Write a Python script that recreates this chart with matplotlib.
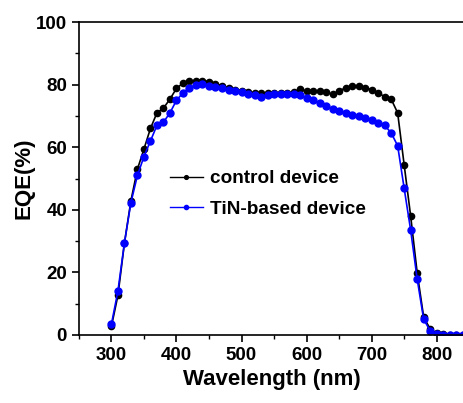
import numpy as np
import matplotlib.pyplot as plt
from matplotlib.ticker import MultipleLocator

plt.rcParams['font.family'] = ['Liberation Sans', 'DejaVu Sans']
plt.rcParams['font.weight'] = 'bold'

# wavelength (nm)
wl = np.arange(300, 850, 10)

# EQE (%) of control device
eqe_control = [2.7, 12.6, 29.3, 42.9, 53.0, 59.4, 66.0, 71.0, 72.5, 75.4,
               78.8, 80.5, 81.2, 81.3, 81.3, 81.0, 80.3, 79.7, 79.0, 78.4,
               78.0, 77.6, 77.4, 77.2, 77.2, 77.3, 77.4, 77.5, 77.6, 78.5,
               78.0, 78.0, 78.0, 77.6, 76.9, 78.0, 79.0, 79.6, 79.7, 79.1,
               78.4, 77.5, 76.1, 75.4, 71.0, 54.4, 38.0, 19.9, 5.7, 1.9,
               0.5, 0.2, 0.1, 0.1, 0.1]

# EQE (%) of TiN-based device
eqe_tin = [3.4, 14.0, 29.4, 42.3, 51.0, 57.0, 62.0, 67.0, 68.0, 71.0,
           75.0, 77.4, 79.0, 80.0, 80.3, 79.7, 79.3, 78.8, 78.3, 78.0,
           77.6, 77.0, 76.6, 76.1, 76.7, 76.9, 77.0, 77.0, 76.9, 76.8,
           75.6, 75.0, 74.0, 73.2, 72.1, 71.5, 70.9, 70.4, 69.9, 69.3,
           68.6, 67.8, 67.0, 64.6, 60.5, 46.9, 33.5, 17.9, 5.0, 1.3,
           0.3, 0.1, 0.1, 0.1, 0.1]

fig = plt.figure(figsize=(4.64, 4.03), dpi=100)
ax = fig.add_axes([0.170, 0.169, 0.83, 0.776])

ax.plot(wl, eqe_control, '-o', color='black', lw=1.2, ms=4.5, label='control device')
ax.plot(wl, eqe_tin, '-o', color='blue', lw=1.2, ms=5, label='TiN-based device')

ax.set_xlim(250, 842)
ax.set_ylim(0, 100)
ax.xaxis.set_major_locator(MultipleLocator(100))
ax.xaxis.set_minor_locator(MultipleLocator(50))
ax.yaxis.set_major_locator(MultipleLocator(20))
ax.yaxis.set_minor_locator(MultipleLocator(10))
ax.tick_params(which='major', direction='out', length=5, width=1.2, labelsize=13.5)
ax.tick_params(which='minor', direction='out', length=3, width=1.0)
for lbl in ax.get_xticklabels() + ax.get_yticklabels():
    lbl.set_fontweight('bold')
ax.spines['right'].set_visible(False)
for s in ['left', 'top', 'bottom']:
    ax.spines[s].set_linewidth(1.2)

ax.set_xlabel('Wavelength (nm)', fontsize=16, fontweight='bold')
ax.set_ylabel('EQE(%)', fontsize=16, fontweight='bold', labelpad=1)

leg = ax.legend(loc='upper left', bbox_to_anchor=(0.236, 0.527), frameon=False,
                prop={'size': 13.7, 'weight': 'bold'}, handlelength=1.74,
                handletextpad=0.37, labelspacing=0.7, borderpad=0,
                borderaxespad=0, markerscale=0.6)
for h in leg.legend_handles:
    h.set_linewidth(1.0)

plt.savefig('out.png', dpi=100)
